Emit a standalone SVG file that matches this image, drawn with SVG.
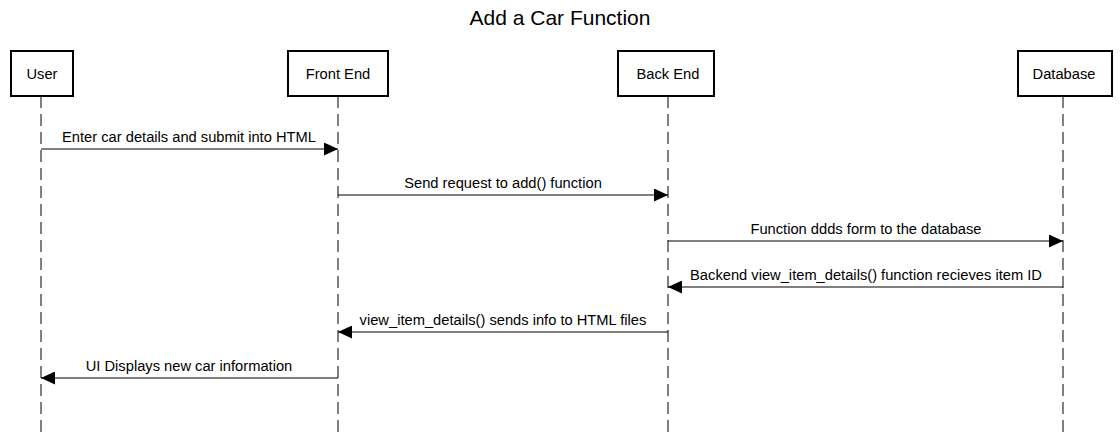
<svg xmlns="http://www.w3.org/2000/svg" width="1120" height="435" viewBox="0 0 1120 435">
<style>
.box{fill:#fff;stroke:#000;stroke-width:2}
.life{stroke:#000;stroke-width:1;stroke-dasharray:12,6}
.msg{stroke:#000;stroke-width:1;fill:none}
text{font-family:"Liberation Sans",Arial,sans-serif;font-size:14.7px;fill:#000;text-anchor:middle}
.title{font-size:21px}
</style>
<defs>
<marker id="ah" viewBox="0 0 14 13" refX="14" refY="6.5" markerWidth="14" markerHeight="13" markerUnits="userSpaceOnUse" orient="auto"><path d="M0,0 L14,6.5 L0,13 z" fill="#000"/></marker>
</defs>
<rect width="1120" height="435" fill="#fff"/>
<text class="title" x="560" y="25">Add a Car Function</text>
<g id="lifelines">
<line class="life" x1="41" y1="96" x2="41" y2="435"/>
<line class="life" x1="338" y1="96" x2="338" y2="435"/>
<line class="life" x1="668" y1="96" x2="668" y2="435"/>
<line class="life" x1="1063" y1="96" x2="1063" y2="435"/>
</g>
<g id="user"><rect class="box" x="11" y="51" width="62" height="45"/><text x="42" y="79">User</text></g>
<g id="frontend"><rect class="box" x="288" y="51" width="100" height="45"/><text x="338" y="79">Front End</text></g>
<g id="backend"><rect class="box" x="618" y="51" width="96" height="45"/><text x="668" y="79">Back End</text></g>
<g id="database"><rect class="box" x="1018" y="51" width="94" height="45"/><text x="1064" y="79">Database</text></g>
<g id="connectors">
<line class="msg" x1="41" y1="149" x2="338" y2="149" marker-end="url(#ah)"/>
<text x="189" y="142">Enter car details and submit into HTML</text>
<line class="msg" x1="338" y1="195" x2="668" y2="195" marker-end="url(#ah)"/>
<text x="503" y="188">Send request to add() function</text>
<line class="msg" x1="668" y1="241" x2="1063" y2="241" marker-end="url(#ah)"/>
<text x="866" y="234">Function ddds form to the database</text>
<line class="msg" x1="1063" y1="287" x2="668" y2="287" marker-end="url(#ah)"/>
<text x="866" y="280">Backend view_item_details() function recieves item ID</text>
<line class="msg" x1="668" y1="332" x2="338" y2="332" marker-end="url(#ah)"/>
<text x="503" y="325">view_item_details() sends info to HTML files</text>
<line class="msg" x1="338" y1="378" x2="41" y2="378" marker-end="url(#ah)"/>
<text x="189" y="371">UI Displays new car information</text>
</g>
</svg>
